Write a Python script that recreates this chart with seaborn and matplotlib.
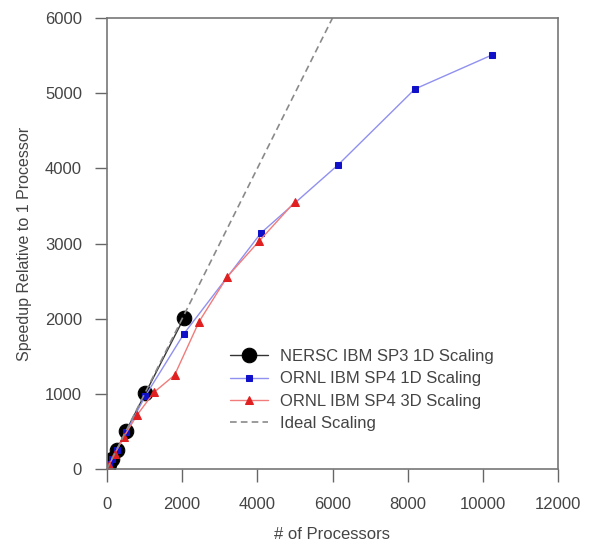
import numpy as np
import pandas as pd
import matplotlib
matplotlib.use("Agg")
import matplotlib.pyplot as plt
import seaborn as sns

# processor counts and speedups
nersc_procs = [32, 64, 128, 256, 512, 1024, 2048]
nersc_speed = [32, 64, 128, 255, 510, 1010, 2010]

sp4_1d_procs = [32, 64, 128, 256, 512, 1024, 2048, 4096, 6144, 8192, 10240]
sp4_1d_speed = [32, 64, 127, 250, 495, 975, 1800, 3140, 4044, 5055, 5507]

sp4_3d_procs = [50, 200, 450, 800, 1250, 1800, 2450, 3200, 4050, 5000]
sp4_3d_speed = [50, 195, 430, 718, 1020, 1250, 1960, 2558, 3033, 3556]

ideal_procs = [0, 6000]
ideal_speed = [0, 6000]

sns.set_style("white")
plt.rcParams['font.family'] = ['Liberation Sans', 'DejaVu Sans']

fig = plt.figure(figsize=(5.89, 5.42), dpi=100)
ax = fig.add_axes([107 / 589, 1 - 469 / 542, 451 / 589, 451 / 542])

series = [
    ("NERSC IBM SP3 1D Scaling", nersc_procs, nersc_speed,
     dict(color="#333333", marker="o", markersize=10.5, markerfacecolor="black",
          markeredgecolor="black", linewidth=1.0)),
    ("ORNL IBM SP4 1D Scaling", sp4_1d_procs, sp4_1d_speed,
     dict(color="#9090f0", marker="s", markersize=5, markerfacecolor="#1010c8",
          markeredgecolor="#1010c8", linewidth=1.0)),
    ("ORNL IBM SP4 3D Scaling", sp4_3d_procs, sp4_3d_speed,
     dict(color="#f27b7b", marker="^", markersize=5.5, markerfacecolor="#e02020",
          markeredgecolor="#e02020", linewidth=1.0)),
]

for name, xs, ys, kw in series:
    df = pd.DataFrame({"procs": xs, "speedup": ys})
    sns.lineplot(data=df, x="procs", y="speedup", ax=ax, label=name,
                 sort=False, estimator=None, **kw)

ideal = pd.DataFrame({"procs": ideal_procs, "speedup": ideal_speed})
sns.lineplot(data=ideal, x="procs", y="speedup", ax=ax, label="Ideal Scaling",
             color="#8a8a8a", linestyle=(0, (4, 2.5)), linewidth=1.2)

ax.set_xlim(0, 12000)
ax.set_ylim(0, 6000)
ax.set_xticks(np.arange(0, 12001, 2000))
ax.set_yticks(np.arange(0, 6001, 1000))

txt = "#444444"
ax.set_xlabel("# of Processors", fontsize=12, color=txt, labelpad=11)
ax.set_ylabel("Speedup Relative to 1 Processor", fontsize=11.5, color=txt, labelpad=9)
ax.tick_params(axis="both", direction="out", length=9, width=1, colors="#666666",
               labelsize=12, labelcolor=txt)
ax.tick_params(axis="x", bottom=True, pad=11)
ax.tick_params(axis="y", left=True, pad=9)
for sp in ax.spines.values():
    sp.set_color("#777777")
    sp.set_linewidth(1.2)

leg = ax.legend(loc="upper left", bbox_to_anchor=(0.273, 0.266), frameon=False,
                borderaxespad=0, borderpad=0,
                fontsize=12, handlelength=2.3, labelspacing=0.44, handletextpad=0.7)
for t in leg.get_texts():
    t.set_color(txt)

fig.savefig("out.png", dpi=100)
